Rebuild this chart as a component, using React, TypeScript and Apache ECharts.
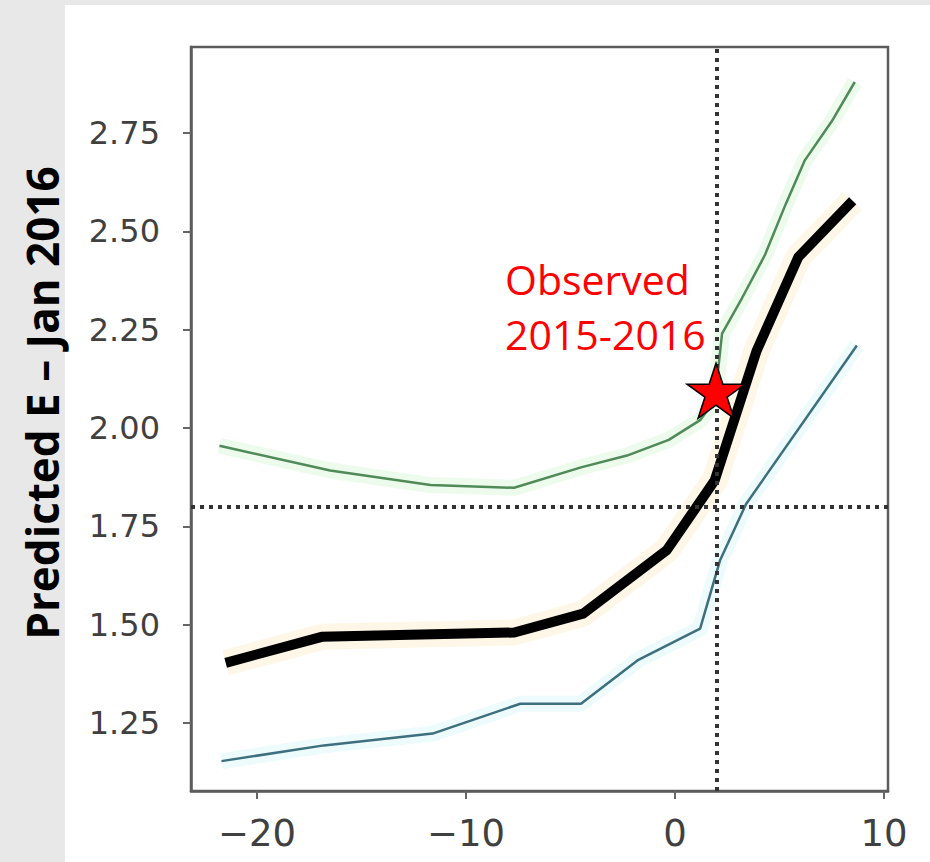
import React, { useEffect, useRef } from "react";
import * as echarts from "echarts";

// ---- data ----
const xTicks = [-20, -10, 0, 10];
const yTicks = [1.25, 1.5, 1.75, 2.0, 2.25, 2.5, 2.75];

const meanX = [-21.5, -16.9, -7.7, -4.4, -0.4, 1.9, 3.9, 5.9, 8.5];
const meanY = [1.403, 1.469, 1.48, 1.528, 1.689, 1.867, 2.196, 2.435, 2.578];

const upperX = [-21.8, -16.5, -11.7, -7.7, -4.5, -2.3, -0.3, 1.2, 1.9, 2.25, 3.2, 4.3, 5.3, 6.2, 7.5, 8.6];
const upperY = [1.955, 1.892, 1.855, 1.848, 1.9, 1.93, 1.97, 2.02, 2.07, 2.24, 2.33, 2.44, 2.57, 2.68, 2.78, 2.88];

const lowerX = [-21.7, -16.8, -11.6, -7.4, -4.5, -1.8, 1.2, 2.15, 3.4, 8.7];
const lowerY = [1.153, 1.193, 1.223, 1.299, 1.299, 1.409, 1.49, 1.663, 1.807, 2.21];

const observedX = [1.96];
const observedY = [2.095];
const refX = 2.0;
const refY = 1.8;

const annotationLines = ["Observed", "2015-2016"];
const yTitle = "Predicted E \u2013 Jan 2016";

const STAR =
  "path://M50 0 L61.23 34.55 L97.55 34.55 L68.16 55.9 L79.39 90.45 L50 69.1 L20.61 90.45 L31.84 55.9 L2.45 34.55 L38.77 34.55 Z";

const pairs = (xs: number[], ys: number[]) => xs.map((x, i) => [x, ys[i]]);

export default function App() {
  const ref = useRef<HTMLDivElement>(null);

  useEffect(() => {
    if (!ref.current) return;
    const chart = echarts.init(ref.current, undefined, { renderer: "svg" });

    const tickFont = { fontFamily: "DejaVu Sans", color: "#404040" };

    chart.setOption({
      animation: false,
      backgroundColor: "transparent",
      grid: {
        left: 191,
        top: 47,
        right: 42,
        bottom: 71,
        show: true,
        borderColor: "#5c5c5c",
        borderWidth: 2.5,
        backgroundColor: "#ffffff",
      },
      xAxis: {
        type: "value",
        min: -23.16,
        max: 10.19,
        splitLine: { show: false },
        axisLine: { show: true, onZero: false, lineStyle: { color: "#5c5c5c", width: 2.5 } },
        axisTick: {
          show: true,
          customValues: xTicks,
          length: 8,
          lineStyle: { color: "#666", width: 2 },
        },
        axisLabel: {
          customValues: xTicks,
          margin: 24,
          fontSize: 37,
          ...tickFont,
          formatter: (v: number) => (v < 0 ? "\u2212" + Math.abs(v) : String(v)),
        },
      },
      yAxis: {
        type: "value",
        min: 1.077,
        max: 2.969,
        splitLine: { show: false },
        axisLine: { show: true, onZero: false, lineStyle: { color: "#5c5c5c", width: 2.5 } },
        axisTick: {
          show: true,
          customValues: yTicks,
          length: 8,
          lineStyle: { color: "#666", width: 2 },
        },
        axisLabel: {
          customValues: yTicks,
          margin: 31,
          fontSize: 32,
          ...tickFont,
          formatter: (v: number) => v.toFixed(2),
        },
      },
      graphic: [
        {
          type: "rect",
          z: -100,
          silent: true,
          shape: { x: 65, y: 5, width: 865, height: 857 },
          style: { fill: "#ffffff" },
        },
        {
          type: "text",
          x: 42,
          y: 403,
          rotation: Math.PI / 2,
          style: {
            text: yTitle,
            fontFamily: "Open Sans",
            fontWeight: "bold",
            fontSize: 44,
            fill: "#000",
            align: "center",
            verticalAlign: "middle",
          },
        },
        {
          type: "text",
          x: 505,
          y: 279,
          z: 50,
          style: {
            text: annotationLines[0],
            fontFamily: "Open Sans",
            fontSize: 41,
            fill: "#ff0000",
            align: "left",
            verticalAlign: "middle",
          },
        },
        {
          type: "text",
          x: 505,
          y: 334,
          z: 50,
          style: {
            text: annotationLines[1],
            fontFamily: "Open Sans",
            fontSize: 41,
            fill: "#ff0000",
            align: "left",
            verticalAlign: "middle",
          },
        },
      ],
      series: [
        // faint halos (shaded bands)
        {
          type: "line",
          data: pairs(upperX, upperY),
          symbol: "none",
          silent: true,
          lineStyle: { color: "#b9efb6", width: 16, opacity: 0.25 },
          z: 1,
        },
        {
          type: "line",
          data: pairs(lowerX, lowerY),
          symbol: "none",
          silent: true,
          lineStyle: { color: "#b6eef5", width: 16, opacity: 0.25 },
          z: 1,
        },
        {
          type: "line",
          data: pairs(meanX, meanY),
          symbol: "none",
          silent: true,
          lineStyle: { color: "#fbe4b4", width: 26, opacity: 0.3 },
          z: 1,
        },
        {
          type: "line",
          name: "upper",
          data: pairs(upperX, upperY),
          symbol: "none",
          lineStyle: { color: "#4f8a58", width: 2.5 },
          z: 3,
        },
        {
          type: "line",
          name: "lower",
          data: pairs(lowerX, lowerY),
          symbol: "none",
          lineStyle: { color: "#3e6f7e", width: 2.5 },
          z: 3,
          markLine: {
            silent: true,
            symbol: "none",
            label: { show: false },
            emphasis: { disabled: true },
            lineStyle: { color: "#333333", width: 4, type: [4, 5], opacity: 1 },
            data: [{ xAxis: refX }, { yAxis: refY }],
          },
        },
        {
          type: "line",
          name: "mean",
          data: pairs(meanX, meanY),
          symbol: "none",
          lineStyle: { color: "#000", width: 10, join: "miter" },
          z: 4,
        },
        {
          type: "scatter",
          name: "observed",
          data: pairs(observedX, observedY),
          symbol: STAR,
          symbolSize: [58, 55],
          itemStyle: { color: "#ff0000", borderColor: "#000", borderWidth: 1.5, opacity: 1 },
          z: 5,
        },
      ],
    });

    return () => chart.dispose();
  }, []);

  return (
    <div
      style={{
        position: "fixed",
        left: 0,
        top: 0,
        width: 930,
        height: 862,
        background: "#e8e8e8",
      }}
    >
      <div ref={ref} style={{ width: 930, height: 862 }} />
    </div>
  );
}
